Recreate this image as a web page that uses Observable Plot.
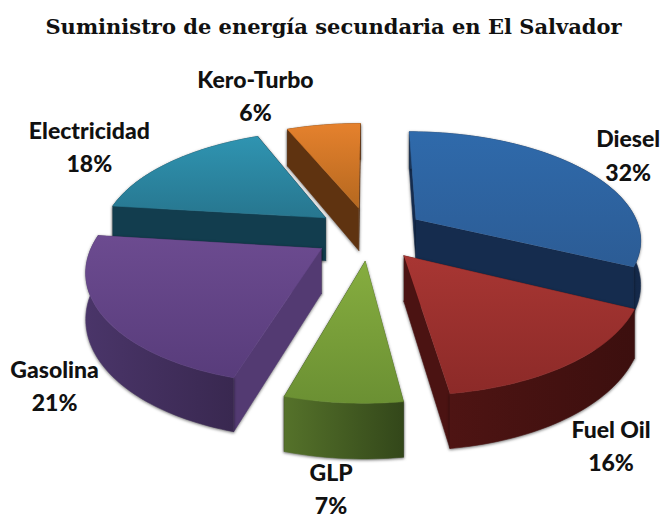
<!DOCTYPE html>
<html lang="es">
<head>
<meta charset="utf-8">
<script src="https://cdn.jsdelivr.net/npm/d3@7"></script>
<script src="https://cdn.jsdelivr.net/npm/@observablehq/plot@0.6"></script>
<style>
html,body{margin:0;padding:0;background:#fff;width:661px;height:517px;overflow:hidden}
#title{height:60px;box-sizing:border-box;padding:14px 0 0 6px;text-align:center;font:bold 21px "DejaVu Serif",serif;color:#111;white-space:nowrap}
svg{display:block}
</style>
</head>
<body>
<div id="title">Suministro de energía secundaria en El Salvador</div>
<div id="chart"></div>
<script>
// Data: clockwise from 12 o'clock
const categories = ["Diesel", "Fuel Oil", "GLP", "Gasolina", "Electricidad", "Kero-Turbo"];
const shares = [32, 16, 7, 21, 18, 6];

// Styles
const topColors = [["#2f6aab","#2c5c95"],["#a83633","#8c2a28"],["#86ad3f","#6b9033"],["#6c4b90","#583c7b"],["#2f94b1","#27768f"],["#e5812d","#b5681f"]];
const wallColors = [["#1a3558","#14294a"],["#4e1413","#3c0f0e"],["#55722a","#33471a"],["#4a3569","#392850"],["#133f50","#113a4a"],["#64360f","#5a300e"]];
const radialColors = ["#152c4e","#4b1312","#3c5220","#533a72","#123d4e","#5f3310"];
const drawOrder = [5, 4, 0, 3, 1, 2];
const labelDx = [45, 41, -12, -49, -81, -68];
const labelDy = [-16, 80, 84, 67, -17, -31];
// Small correction (degrees) of each slice's closing edge for the 3D rendering
const edgeTweak = [0.3, -0.7, -1.6, 3.2, -1.2, 0];

// Pie layout (perspective of a tilted disc)
const explode = 0.25, perspective = 0.17, thickness = 0.41;
const titleH = 60, W = 661, H = 517 - titleH;
const cx = 369, cy = 233 - titleH, rx = 225, ry = 107;

const total = d3.sum(shares);
const cum = d3.cumsum(shares);
const edges = [0, ...Array.from(cum, (c, i) => (c / total * 360 + edgeTweak[i]) * Math.PI / 180)];
const wedges = categories.map((name, i) => {
  const a0 = edges[i], a1 = edges[i + 1];
  const mid = (a0 + a1) / 2;
  return {name, i, a0, a1, mid, ox: explode * Math.sin(mid), oy: -explode * Math.cos(mid)};
});
function proj(w, r, a, z) {
  const X = w.ox + r * Math.sin(a), Y = w.oy - r * Math.cos(a);
  const s = 1 / (1 - perspective * Y);
  return {x: X * s, y: (Y + z * thickness) * s, d: Y};
}
function arc(w, z) {
  const n = Math.max(8, Math.ceil((w.a1 - w.a0) * 40));
  return d3.range(n + 1).map(j => proj(w, 1, w.a0 + (w.a1 - w.a0) * j / n, z));
}
const face = (pts, fill, filter) => Plot.line(pts, {x: "x", y: "y", fill, stroke: fill, strokeWidth: 0.6, imageFilter: filter});
const shadow = "drop-shadow(0px 1px 1.5px rgba(0,0,0,0.55))";

const marks = [() => {
  const defs = d3.create("svg:defs");
  wedges.forEach(w => {
    const a = defs.append("linearGradient").attr("id", `top${w.i}`).attr("x1", 0).attr("y1", 0).attr("x2", 0).attr("y2", 1);
    a.append("stop").attr("offset", 0).attr("stop-color", topColors[w.i][0]);
    a.append("stop").attr("offset", 1).attr("stop-color", topColors[w.i][1]);
    const b = defs.append("linearGradient").attr("id", `wall${w.i}`).attr("x1", 0).attr("y1", 0).attr("x2", 1).attr("y2", 0);
    b.append("stop").attr("offset", 0).attr("stop-color", wallColors[w.i][0]);
    b.append("stop").attr("offset", 1).attr("stop-color", wallColors[w.i][1]);
  });
  return defs.node();
}];

for (const i of drawOrder) {
  const w = wedges[i];
  const topArc = arc(w, 0), botArc = arc(w, 1);
  const apexT = proj(w, 0, 0, 0), apexB = proj(w, 0, 0, 1);
  const rad = (end) => [apexT, end[0], end[1], apexB];
  const first = [topArc[0], botArc[0]], last = [topArc[topArc.length - 1], botArc[botArc.length - 1]];
  const faces = [
    {pts: rad(first), fill: radialColors[i], d: (first[0].d + apexT.d) / 2},
    {pts: rad(last), fill: radialColors[i], d: (last[0].d + apexT.d) / 2},
    {pts: [...topArc, ...botArc.slice().reverse()], fill: `url(#wall${i})`, d: d3.mean(topArc, p => p.d) + 0.3}
  ].sort((a, b) => a.d - b.d);
  for (const f of faces) marks.push(face(f.pts, f.fill, shadow));
  marks.push(face([apexT, ...topArc], `url(#top${i})`));
}

// Labels
wedges.forEach(w => {
  const p = proj(w, 1, w.mid, 0);
  marks.push(Plot.text([{x: p.x, y: p.y, t: `${w.name}\n${shares[w.i]}%`}], {
    x: "x", y: "y", text: "t", dx: labelDx[w.i], dy: labelDy[w.i],
    fontFamily: "Lato", fontWeight: 900, fontSize: 23, lineHeight: 1.45, fill: "#111"
  }));
});

const plot = Plot.plot({
  width: W, height: H, margin: 0,
  x: {domain: [-cx / rx, (W - cx) / rx], range: [0, W], axis: null},
  y: {domain: [-cy / ry, (H - cy) / ry], range: [0, H], axis: null},
  style: {background: "transparent", overflow: "hidden"},
  marks
});
document.getElementById("chart").append(plot);
</script>
</body>
</html>
